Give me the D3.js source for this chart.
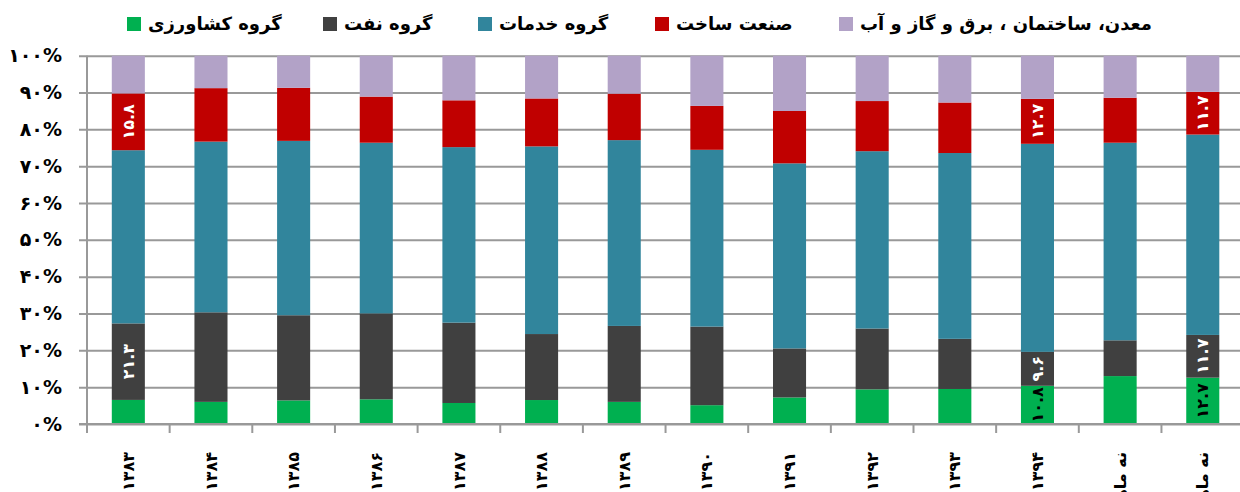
<!DOCTYPE html>
<html>
<head>
<meta charset="utf-8">
<script src="https://cdn.jsdelivr.net/npm/d3@7"></script>
<style>
  body { margin: 0; background: #fff; }
  svg { display: block; font-family: "DejaVu Sans", sans-serif; font-weight: bold; }
</style>
</head>
<body>
<div id="chart"></div>
<script>
// categories (years, then the two nine-month periods)
var categories = ["۱۳۸۳","۱۳۸۴","۱۳۸۵","۱۳۸۶","۱۳۸۷","۱۳۸۸","۱۳۸۹","۱۳۹۰","۱۳۹۱","۱۳۹۲","۱۳۹۳","۱۳۹۴","نه ماهه ۱۳۹۴","نه ماهه ۱۳۹۵"];

// series values, percent share of each group (stacked to 100%)
var keshavarzi = [6.7, 6.0, 6.4, 6.7, 5.7, 6.5, 6.0, 5.1, 7.2, 9.4, 9.5, 10.8, 13.0, 12.7];
var naft       = [21.3, 24.3, 23.1, 23.3, 21.8, 17.9, 20.6, 21.3, 13.3, 16.5, 13.6, 9.6, 9.7, 11.7];
var khadamat   = [48.2, 46.3, 47.3, 46.3, 47.6, 50.9, 50.4, 47.9, 50.2, 48.1, 50.4, 58.8, 53.6, 54.9];
var sakht      = [15.8, 14.5, 14.4, 12.5, 12.7, 13.0, 12.6, 11.9, 14.2, 13.6, 13.7, 12.7, 12.2, 11.7];
var madan      = [10.5, 8.8, 8.7, 11.1, 12.1, 11.6, 10.3, 13.6, 15.0, 12.3, 12.7, 12.2, 11.4, 9.9];

var seriesNames = ["گروه کشاورزی", "گروه نفت", "گروه خدمات", "صنعت ساخت", "معدن، ساختمان ، برق و گاز و آب"];
var seriesKeys = ["keshavarzi", "naft", "khadamat", "sakht", "madan"];
var colors = ["#00B050", "#404040", "#31859C", "#C00000", "#B2A2C7"];
var yTicks = [0, 0.1, 0.2, 0.3, 0.4, 0.5, 0.6, 0.7, 0.8, 0.9, 1];

// which segments carry a value label
var labelled = [
  {cat: "۱۳۸۳", keys: ["naft", "sakht"]},
  {cat: "۱۳۹۴", keys: ["keshavarzi", "naft", "sakht"]},
  {cat: "نه ماهه ۱۳۹۵", keys: ["keshavarzi", "naft", "sakht"]}
];

var fa = function(s){ return String(s).replace(/\d/g, function(d){ return "۰۱۲۳۴۵۶۷۸۹"[d]; }); };

var width = 1240, height = 492;
var plotLeft = 87, plotTop = 55.7, plotBottom = 424;
var step = 82.65;

var table = categories.map(function(c, i){
  return {cat: c, keshavarzi: keshavarzi[i], naft: naft[i], khadamat: khadamat[i], sakht: sakht[i], madan: madan[i]};
});

var stack = d3.stack().keys(seriesKeys).offset(d3.stackOffsetExpand);
var layers = stack(table);

var x = d3.scaleBand()
  .domain(categories)
  .range([plotLeft, plotLeft + step * categories.length])
  .paddingInner(0.6)
  .paddingOuter(0.3);

var y = d3.scaleLinear().domain([0, 1]).range([plotBottom, plotTop]);

var svg = d3.select("#chart").append("svg")
  .attr("width", width)
  .attr("height", height);

// gridlines + y axis
var yAxis = svg.append("g")
  .attr("transform", "translate(" + plotLeft + ",0)")
  .call(d3.axisLeft(y).tickValues(yTicks).tickSize(0).tickFormat(function(d){ return fa(Math.round(d * 100)) + "%"; }));
yAxis.select(".domain").remove();
yAxis.selectAll(".tick text")
  .attr("x", -25)
  .attr("font-size", 19)
  .attr("font-family", "DejaVu Sans")
  .attr("font-weight", "bold")
  .attr("fill", "#000");
yAxis.selectAll(".tick").append("line")
  .attr("x1", -8)
  .attr("x2", width - plotLeft)
  .attr("stroke", "#999")
  .attr("stroke-width", 2);

svg.append("line")
  .attr("x1", plotLeft).attr("x2", plotLeft)
  .attr("y1", plotTop).attr("y2", plotBottom)
  .attr("stroke", "#999").attr("stroke-width", 2);

// bars
var groups = svg.selectAll("g.layer")
  .data(layers)
  .enter()
  .append("g")
  .attr("class", "layer")
  .attr("fill", function(d, i){ return colors[i]; });

groups.selectAll("rect")
  .data(function(d){ return d; })
  .enter()
  .append("rect")
  .attr("x", function(d){ return x(d.data.cat); })
  .attr("y", function(d){ return y(d[1]); })
  .attr("width", x.bandwidth())
  .attr("height", function(d){ return y(d[0]) - y(d[1]); });

// value labels
labelled.forEach(function(l){
  l.keys.forEach(function(k){
    var si = seriesKeys.indexOf(k);
    var ci = categories.indexOf(l.cat);
    var seg = layers[si][ci];
    var cx = x(l.cat) + x.bandwidth() / 2;
    var cy = (y(seg[0]) + y(seg[1])) / 2;
    svg.append("text")
      .attr("transform", "translate(" + cx + "," + cy + ") rotate(-90)")
      .attr("text-anchor", "middle")
      .attr("dy", "0.35em")
      .attr("font-size", 16)
      .attr("fill", k == "keshavarzi" ? "#000" : "#fff")
      .text(fa(table[ci][k].toFixed(1)));
  });
});

// x axis
svg.append("line")
  .attr("x1", 79).attr("x2", width)
  .attr("y1", plotBottom).attr("y2", plotBottom)
  .attr("stroke", "#999").attr("stroke-width", 2);

svg.selectAll("line.xtick")
  .data(d3.range(categories.length + 1))
  .enter()
  .append("line")
  .attr("class", "xtick")
  .attr("x1", function(i){ return plotLeft + i * x.step(); })
  .attr("x2", function(i){ return plotLeft + i * x.step(); })
  .attr("y1", plotBottom).attr("y2", plotBottom + 9)
  .attr("stroke", "#999").attr("stroke-width", 2);

svg.selectAll("text.xlabel")
  .data(categories)
  .enter()
  .append("text")
  .attr("class", "xlabel")
  .attr("transform", function(d){ return "translate(" + (x(d) + x.bandwidth() / 2) + ",452) rotate(-90)"; })
  .attr("text-anchor", "end")
  .attr("dy", "0.35em")
  .attr("font-size", 16)
  .text(function(d){ return d; });

// legend
var legendX = [127, 323, 478, 655, 839];
var legend = svg.selectAll("g.legend")
  .data(seriesNames)
  .enter()
  .append("g")
  .attr("class", "legend")
  .attr("transform", function(d, i){ return "translate(" + legendX[i] + ",24)"; });

legend.append("rect")
  .attr("x", 0).attr("y", -7)
  .attr("width", 14).attr("height", 14)
  .attr("fill", function(d, i){ return colors[i]; });

legend.append("text")
  .attr("x", 21)
  .attr("dy", "0.35em")
  .attr("font-size", 18)
  .attr("direction", "rtl")
  .attr("text-anchor", "end")
  .text(function(d){ return d; });
</script>
</body>
</html>
